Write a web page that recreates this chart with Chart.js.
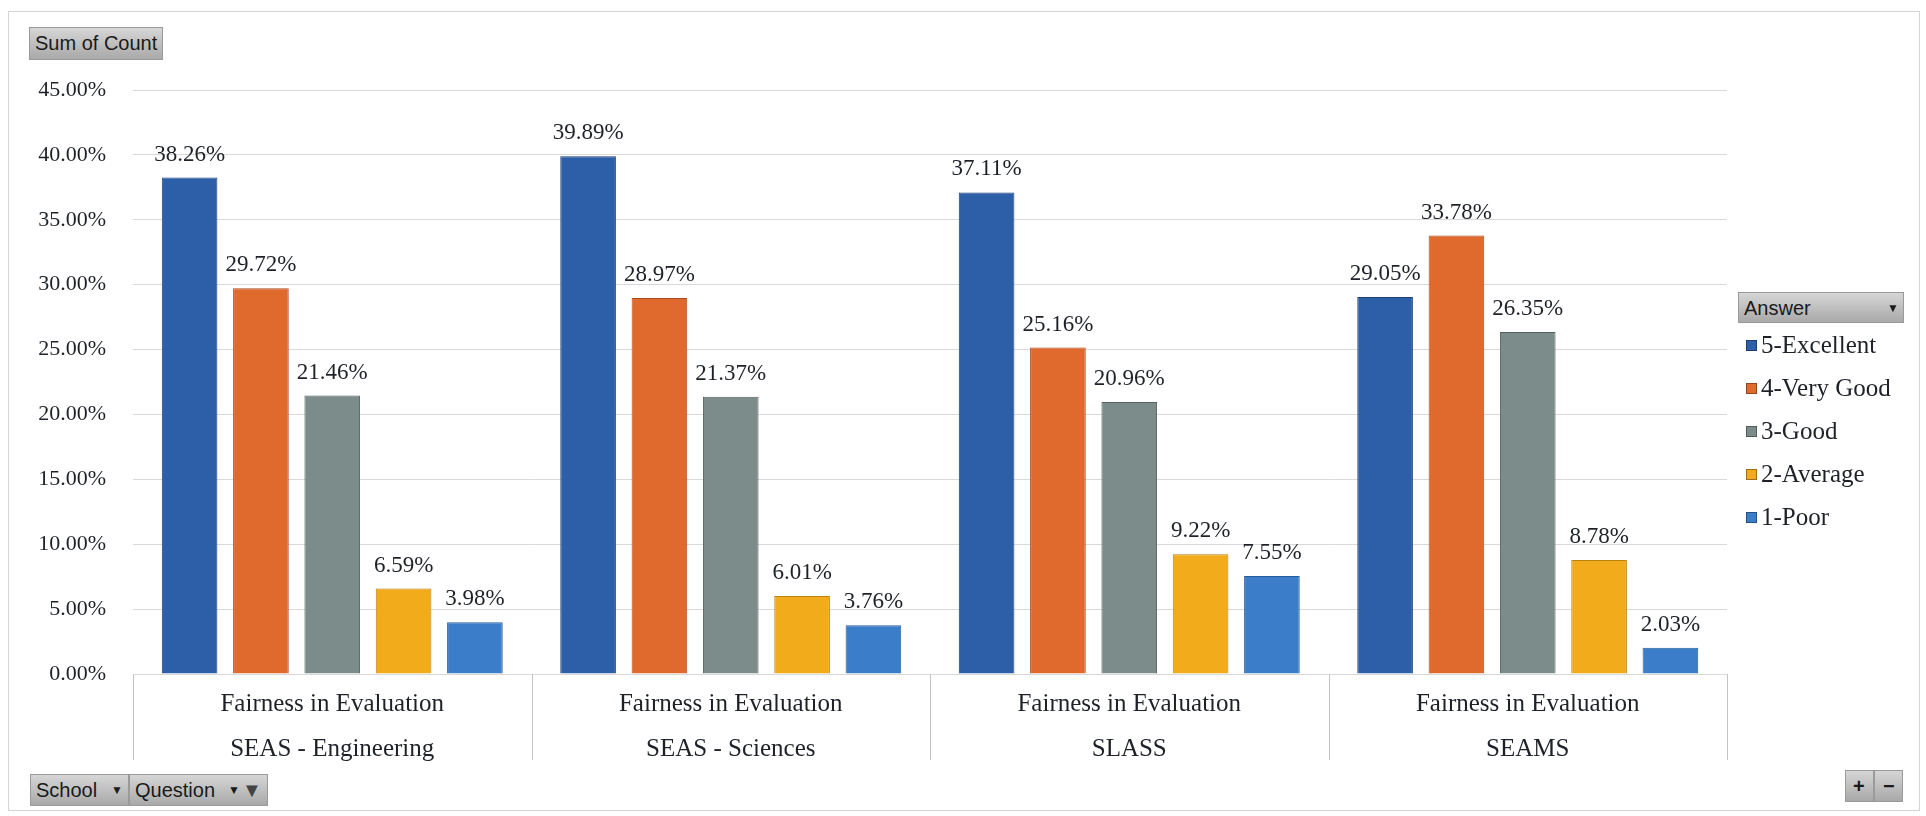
<!DOCTYPE html>
<html>
<head>
<meta charset="utf-8">
<script src="https://cdn.jsdelivr.net/npm/chart.js@4.4.1/dist/chart.umd.min.js"></script>
<style>
    html, body { margin: 0; padding: 0; background: #fff; }
    #wrap { position: relative; width: 1926px; height: 816px; overflow: hidden; }
    #frame { position: absolute; left: 8px; top: 11px; width: 1912px; height: 800px; border: 1px solid #d4d4d4; box-sizing: border-box; }
    canvas { position: absolute; left: 0; top: 0; }
    .btn {
        position: absolute; box-sizing: border-box;
        background: linear-gradient(#d6d6d6, #a9a9a9);
        border: 1px solid #9a9a9a;
        font-family: "Liberation Sans Narrow", "Liberation Sans", sans-serif;
        font-size: 20px; color: #1a1a1a; line-height: 30px; padding-left: 5px;
        white-space: nowrap;
    }
    .caret { font-size: 12px; position: absolute; top: 0; }
    #legend { position: absolute; left: 1746px; top: 327px; font-family: "Liberation Serif", serif; font-size: 25px; color: #1e2228; }
    .item { height: 43px; line-height: 36px; white-space: nowrap; }
    .sw { display: inline-block; width: 9px; height: 9px; margin-right: 4px; vertical-align: 2px; border: 1px solid rgba(0,0,0,0.35); }
</style>
</head>
<body>
<div id="wrap">
    <div id="frame"></div>
    <canvas id="chart" width="1926" height="816"></canvas>
    <div class="btn" style="left:29px;top:27px;width:134px;height:33px;">Sum of Count</div>
    <div class="btn" style="left:1738px;top:292px;width:166px;height:31px;">Answer<span class="caret" style="left:148px;">&#9660;</span></div>
    <div class="btn" style="left:30px;top:774px;width:99px;height:32px;">School<span class="caret" style="left:80px;">&#9660;</span></div>
    <div class="btn" style="left:129px;top:774px;width:139px;height:32px;">Question<span class="caret" style="left:98px;">&#9660;</span><span style="position:absolute;left:112px;top:0;font-size:20px;color:#444;">&#9660;</span></div>
    <div class="btn" style="left:1845px;top:770px;width:29px;height:32px;padding-left:7px;font-weight:bold;">+</div>
    <div class="btn" style="left:1874px;top:770px;width:29px;height:32px;padding-left:8px;font-weight:bold;">&minus;</div>
    <div id="legend"></div>
</div>
<script>
const questions = ['Fairness in Evaluation', 'Fairness in Evaluation', 'Fairness in Evaluation', 'Fairness in Evaluation'];
const schools = ['SEAS - Engineering', 'SEAS - Sciences', 'SLASS', 'SEAMS'];
const answers = ['5-Excellent', '4-Very Good', '3-Good', '2-Average', '1-Poor'];

const excellent = [38.26, 39.89, 37.11, 29.05];
const veryGood = [29.72, 28.97, 25.16, 33.78];
const good = [21.46, 21.37, 20.96, 26.35];
const average = [6.59, 6.01, 9.22, 8.78];
const poor = [3.98, 3.76, 7.55, 2.03];

const yTicks = [0, 5, 10, 15, 20, 25, 30, 35, 40, 45];

const colors = ['#2d5ea8', '#e0692e', '#7b8c8a', '#f2ab1a', '#3b7dc8'];
const borders = ['#1e3f78', '#a84b1f', '#56625f', '#b98213', '#285c98'];
const seriesValues = [excellent, veryGood, good, average, poor];

const serif = '"Liberation Serif", serif';
const textColor = '#1e2228';

const valueLabels = {
    id: 'valueLabels',
    afterDatasetsDraw(chart) {
        const ctx = chart.ctx;
        ctx.save();
        ctx.font = '23px ' + serif;
        ctx.fillStyle = textColor;
        ctx.textAlign = 'center';
        ctx.textBaseline = 'middle';
        chart.data.datasets.forEach((ds, i) => {
            chart.getDatasetMeta(i).data.forEach((bar, j) => {
                ctx.fillText(ds.data[j].toFixed(2) + '%', bar.x, bar.y - 23);
            });
        });
        ctx.restore();
    }
};

// box lines between the category groups under the axis
const categoryBoxes = {
    id: 'categoryBoxes',
    afterDraw(chart) {
        const x = chart.scales.x;
        const ctx = chart.ctx;
        const half = (x.getPixelForValue(1) - x.getPixelForValue(0)) / 2;
        ctx.save();
        ctx.strokeStyle = '#c4c4c4';
        ctx.lineWidth = 1;
        for (let i = 0; i <= schools.length; i++) {
            const px = Math.round(x.getPixelForValue(i) - half) + 0.5;
            ctx.beginPath();
            ctx.moveTo(px, chart.chartArea.bottom);
            ctx.lineTo(px, chart.chartArea.bottom + 86);
            ctx.stroke();
        }
        ctx.restore();
    }
};

const legend = document.getElementById('legend');
answers.forEach((name, i) => {
    const item = document.createElement('div');
    item.className = 'item';
    const sw = document.createElement('span');
    sw.className = 'sw';
    sw.style.background = colors[i];
    item.appendChild(sw);
    item.appendChild(document.createTextNode(name));
    legend.appendChild(item);
});

new Chart(document.getElementById('chart'), {
    type: 'bar',
    data: {
        labels: schools.map((s, i) => [questions[i], s]),
        datasets: answers.map((name, i) => ({
            label: name,
            data: seriesValues[i],
            backgroundColor: colors[i],
            borderColor: borders[i],
            borderWidth: 1,
            categoryPercentage: 0.895,
            barPercentage: 0.78
        }))
    },
    options: {
        responsive: false,
        animation: false,
        layout: { padding: { left: 0, right: 199, top: 90, bottom: 0 } },
        plugins: { legend: { display: false }, tooltip: { enabled: false } },
        scales: {
            x: {
                grid: { display: false },
                border: { display: false },
                ticks: {
                    autoSkip: false, maxRotation: 0, minRotation: 0,
                    padding: 0, color: textColor,
                    font: { family: serif, size: 25, lineHeight: '45px' }
                },
                afterFit(scale) { scale.height = 142; }
            },
            y: {
                min: 0, max: 45,
                afterBuildTicks(scale) { scale.ticks = yTicks.map(v => ({ value: v })); },
                grid: { color: '#d9d9d9', drawTicks: false },
                border: { display: false },
                ticks: {
                    padding: 27, color: textColor,
                    font: { family: serif, size: 22 },
                    callback: v => v.toFixed(2) + '%'
                },
                afterFit(scale) { scale.width = 133; }
            }
        }
    },
    plugins: [valueLabels, categoryBoxes]
});
</script>
</body>
</html>
